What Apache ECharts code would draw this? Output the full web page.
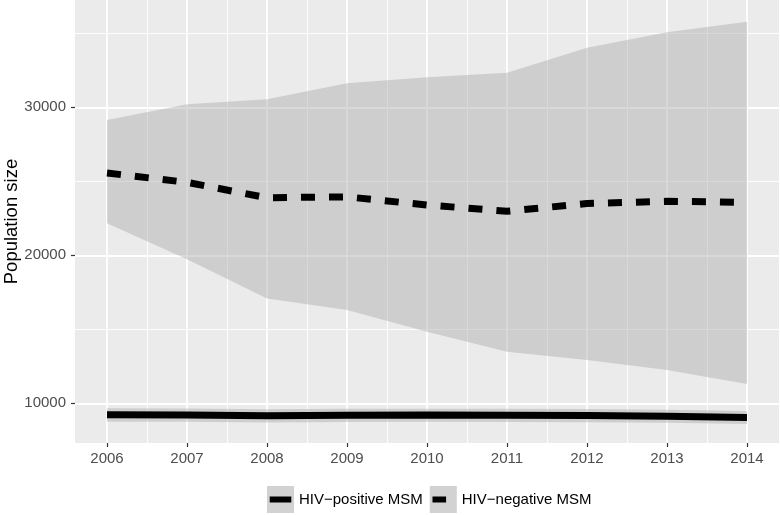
<!DOCTYPE html>
<html>
<head>
<meta charset="utf-8">
<script src="https://cdn.jsdelivr.net/npm/echarts@6/dist/echarts.min.js"></script>
<style>
html, body {margin: 0; padding: 0; background: #fff;}
#chart {width: 780px; height: 515px;}
</style>
</head>
<body>
<div id="chart"></div>
<script>
// data
var years = [2006, 2007, 2008, 2009, 2010, 2011, 2012, 2013, 2014];
var posMid  = [9230, 9210, 9160, 9200, 9210, 9200, 9180, 9130, 9040];
var posLow  = [8760, 8750, 8700, 8740, 8750, 8740, 8720, 8680, 8600];
var posHigh = [9660, 9650, 9600, 9630, 9640, 9630, 9610, 9560, 9480];
var negMid  = [25560, 24930, 23890, 23950, 23400, 22980, 23500, 23650, 23580];
var negLow  = [22160, 19730, 17090, 16300, 14840, 13490, 12930, 12250, 11300];
var negHigh = [29140, 30200, 30540, 31620, 32030, 32340, 34030, 35070, 35780];
var yTicks = [10000, 20000, 30000];
var yMinor = [15000, 25000, 35000];
var xMinor = [2006.5, 2007.5, 2008.5, 2009.5, 2010.5, 2011.5, 2012.5, 2013.5];
var names = ['HIV\u2212positive MSM', 'HIV\u2212negative MSM'];

var FONT = 'Liberation Sans, Arial, sans-serif';
var ribbonFill = 'rgba(170,170,170,0.45)';

function pairs(vals) {
    return years.map(function (y, i) { return [y, vals[i]]; });
}

// ribbon drawn as one polygon through the axis scales
function ribbon(low, high) {
    return {
        type: 'custom',
        silent: true,
        z: 2,
        data: [[years[0], high[0]]],
        renderItem: function (params, api) {
            var pts = [];
            for (var i = 0; i < years.length; i++) pts.push(api.coord([years[i], high[i]]));
            for (var j = years.length - 1; j >= 0; j--) pts.push(api.coord([years[j], low[j]]));
            return {type: 'polygon', shape: {points: pts}, style: {fill: ribbonFill}};
        }
    };
}

// legend key glyphs, 27x27 box, corner dots keep the box size
var corners = 'M0,0h0.01v0.01z M27,27h-0.01v-0.01z ';
var iconSolid = 'path://' + corners + 'M2.7,10.5 H24.3 V16.5 H2.7 Z';
var iconDash = 'path://' + corners + 'M2.7,10.5 H16.3 V16.5 H2.7 Z';

var legendBase = {
    orient: 'horizontal',
    left: 267, top: 486,
    padding: 0,
    itemWidth: 27, itemHeight: 27, itemGap: 7,
    selectedMode: false,
    textStyle: {fontFamily: FONT, fontSize: 15, color: '#000'}
};

var xMain = {
    type: 'value', min: 2005.6, max: 2014.4,
    axisLine: {show: false},
    axisTick: {show: true, length: 4, customValues: years, lineStyle: {color: '#333', width: 1.2}},
    axisLabel: {customValues: years, margin: 8, color: '#4D4D4D', fontSize: 15, fontFamily: FONT,
        formatter: function (v) { return String(v); }},
    splitLine: {show: true, lineStyle: {color: '#fff', width: 1.8}}
};
var xSub = {
    type: 'value', min: 2005.6, max: 2014.4, position: 'top',
    axisLine: {show: false}, axisLabel: {show: false},
    axisTick: {show: false, customValues: xMinor},
    splitLine: {show: true, lineStyle: {color: '#fff', width: 0.9}}
};
var yMain = {
    type: 'value', min: 7320, max: 37250,
    name: 'Population size', nameLocation: 'middle', nameGap: 54, nameMoveOverlap: false,
    nameTextStyle: {fontFamily: FONT, fontSize: 18.5, color: '#000'},
    axisLine: {show: false},
    axisTick: {show: true, length: 4, customValues: yTicks, lineStyle: {color: '#333', width: 1.2}},
    axisLabel: {customValues: yTicks, margin: 9, color: '#4D4D4D', fontSize: 15, fontFamily: FONT,
        formatter: function (v) { return String(v); }},
    splitLine: {show: true, lineStyle: {color: '#fff', width: 1.8}}
};
var ySub = {
    type: 'value', min: 7320, max: 37250, position: 'right',
    axisLine: {show: false}, axisLabel: {show: false},
    axisTick: {show: false, customValues: yMinor},
    splitLine: {show: true, lineStyle: {color: '#fff', width: 0.9}}
};

var chart = echarts.init(document.getElementById('chart'), null, {renderer: 'canvas'});
chart.setOption({
    animation: false,
    backgroundColor: '#fff',
    grid: {left: 75, right: 1, top: 0, bottom: 72, show: true,
        backgroundColor: '#EBEBEB', borderWidth: 0, containLabel: false, outerBoundsMode: 'none'},
    xAxis: [xSub, xMain],
    yAxis: [ySub, yMain],
    legend: [
        Object.assign({}, legendBase, {
            z: 4,
            data: names.map(function (n) {
                return {name: n, icon: 'rect', itemStyle: {color: '#D2D2D2', borderWidth: 0}};
            }),
            textStyle: {fontFamily: FONT, fontSize: 15, color: 'rgba(0,0,0,0)'}
        }),
        Object.assign({}, legendBase, {
            z: 5,
            data: [
                {name: names[0], icon: iconSolid, itemStyle: {color: '#000', borderWidth: 0}},
                {name: names[1], icon: iconDash, itemStyle: {color: '#000', borderWidth: 0}}
            ]
        })
    ],
    series: [
        Object.assign(ribbon(posLow, posHigh), {xAxisIndex: 1, yAxisIndex: 1}),
        Object.assign(ribbon(negLow, negHigh), {xAxisIndex: 1, yAxisIndex: 1}),
        {
            name: names[0], type: 'line', xAxisIndex: 1, yAxisIndex: 1, z: 3,
            data: pairs(posMid), symbol: 'none', silent: true,
            lineStyle: {color: '#000', width: 7, cap: 'butt'}
        },
        {
            name: names[1], type: 'line', xAxisIndex: 1, yAxisIndex: 1, z: 3,
            data: pairs(negMid), symbol: 'none', silent: true,
            lineStyle: {color: '#000', width: 7, type: [14, 14], cap: 'butt'}
        }
    ]
});
</script>
</body>
</html>
